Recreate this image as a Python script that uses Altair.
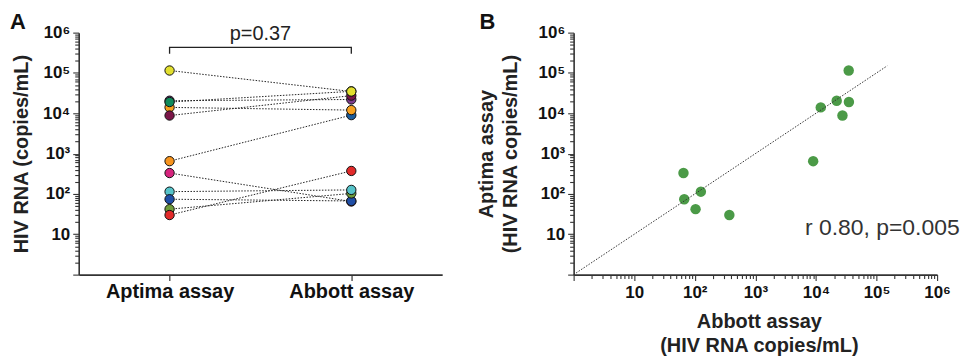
import altair as alt
import pandas as pd

# ---------------- data ----------------
subjects = ["S1", "S2", "S3", "S4", "S5", "S6", "S7", "S8", "S9", "S10", "S11"]
aptima = [115000, 20500, 19000, 14000, 8800, 650, 330, 114, 74, 42, 30]
abbott = [34700, 22000, 35000, 12000, 27400, 9000, 65, 126, 67, 103, 372]
aptima_colors = ["#e2df2e", "#7d3c8c", "#0f8a5a", "#f6a11f", "#7b1648", "#f7941e",
                 "#d6247e", "#56c3c9", "#1f4ea6", "#6f9c3a", "#e22a2a"]
abbott_colors = ["#e2df2e", "#7d3c8c", "#0f8a5a", "#f6a11f", "#7b1648", "#1c5d9c",
                 "#d6247e", "#56c3c9", "#1f4ea6", "#6f9c3a", "#e22a2a"]
aptima_z = [0, 1, 2, 1, 3, 0, 0, 1, 2, 3, 4]
abbott_z = [10, 7, 9, 6, 8, 5, 0, 3, 1, 2, 4]
assays = ["Aptima assay", "Abbott assay"]
p_text = ["p=0.37"]
r_text = ["r 0.80, p=0.005"]
fit_x = [1, 150000]
fit_y = [1, 150000]
bracket_pos = [0, 0, 1, 1]
bracket_val = [300000, 430000, 430000, 300000]

# ---------------- tables ----------------
rows = []
for i, s in enumerate(subjects):
    rows.append({"subject": s, "pos": 0, "value": aptima[i], "col": aptima_colors[i], "z": aptima_z[i]})
    rows.append({"subject": s, "pos": 1, "value": abbott[i], "col": abbott_colors[i], "z": abbott_z[i]})
long_df = pd.DataFrame(rows)
scatter_df = pd.DataFrame({"abbott": abbott, "aptima": aptima})
fit_df = pd.DataFrame({"x": fit_x, "y": fit_y})
bracket_df = pd.DataFrame({"pos": bracket_pos, "value": bracket_val, "k": list(range(4))})

FONT = "Liberation Sans"
W, H = 365, 243

ticks = [m * 10 ** k for k in range(0, 6) for m in range(1, 10)] + [10 ** 6]
sup = {2: "\u00b2", 3: "\u00b3", 4: "\u2074", 5: "\u2075", 6: "\u2076"}
lab = "datum.value == 10 ? '10\u2002'"
for k in range(2, 7):
    lab += f" : datum.value == {10 ** k} ? '10{sup[k]}'"
lab += " : ''"
major_test = " || ".join(f"datum.value == {10 ** k}" for k in range(0, 7))
tick_size = {"condition": {"test": major_test, "value": 6}, "value": 4}

axis_common = dict(
    values=ticks, labelExpr=lab, tickSize=tick_size, labelOverlap=False, labelFlush=False,
    labelFont=FONT, labelFontSize=17, labelFontWeight="bold", labelColor="#111",
    domainColor="#333", domainWidth=1.6, tickColor="#333", tickWidth=1.1,
    grid=False, titleFont=FONT, titleFontSize=20, titleFontWeight="bold",
    titleColor="#222",
)

logscale = alt.Scale(type="log", domain=[1, 1e6], nice=False)

# ---------------- panel A ----------------
yA = alt.Y("value:Q", scale=logscale,
           axis=alt.Axis(title="HIV RNA (copies/mL)", titleX=-57, titleBaseline="middle",
                         labelPadding=3, **axis_common))
xA = alt.X("pos:Q", scale=alt.Scale(domain=[-0.5, 1.5], nice=False, zero=False),
           axis=alt.Axis(values=[0, 1], labelExpr="datum.value == 0 ? 'Aptima assay' : 'Abbott assay'",
                         title=None, tickSize=6, labelPadding=1, labelFont=FONT, labelFontSize=20,
                         labelFontWeight="bold", labelColor="#111", domainColor="#333",
                         domainWidth=1.6, tickColor="#333", tickWidth=1.2, grid=False,
                         labelFlush=False))

linesA = alt.Chart(long_df).mark_line(strokeDash=[1.5, 1.5], strokeWidth=1, color="#222").encode(
    x=xA, y=yA, detail="subject:N")
pointsA = alt.Chart(long_df).mark_point(filled=True, size=88, stroke="#111", strokeWidth=1,
                                        opacity=1).encode(
    x="pos:Q", y="value:Q", fill=alt.Fill("col:N", scale=None), order="z:Q")
bracketA = alt.Chart(bracket_df).mark_line(color="#222", strokeWidth=1.3).encode(
    x="pos:Q", y="value:Q", order="k:Q")
pA = alt.Chart(pd.DataFrame({"t": p_text})).mark_text(
    font=FONT, fontSize=20, color="#222", baseline="middle").encode(
    x=alt.datum(0.5), y=alt.datum(930000), text="t:N")
letterA = alt.Chart(pd.DataFrame({"t": ["A"]})).mark_text(
    font=FONT, fontSize=22, fontWeight="bold", color="#111", baseline="middle").encode(
    x=alt.value(-61), y=alt.value(-10.5), text="t:N")

panelA = alt.layer(linesA, pointsA, bracketA, pA, letterA).properties(width=W, height=H)

# ---------------- panel B ----------------
xB = alt.X("abbott:Q", scale=logscale,
           axis=alt.Axis(title=["Abbott assay", "(HIV RNA copies/mL)"], titleLineHeight=24,
                         titleX=186, titleY=37, titleBaseline="top", labelPadding=4,
                         **axis_common))
yB = alt.Y("aptima:Q", scale=logscale,
           axis=alt.Axis(title=["Aptima assay", "(HIV RNA copies/mL)"], titleLineHeight=24,
                         titleX=-97, titleBaseline="top", labelPadding=3, **axis_common))

fitB = alt.Chart(fit_df).mark_line(strokeDash=[1.5, 1.5], strokeWidth=1, color="#333").encode(
    x=alt.X("x:Q", scale=logscale), y=alt.Y("y:Q", scale=logscale))
pointsB = alt.Chart(scatter_df).mark_circle(size=110, color="#4b9a47", opacity=1).encode(
    x=xB, y=yB)
rB = alt.Chart(pd.DataFrame({"t": r_text})).mark_text(
    font=FONT, fontSize=23, color="#333", align="left", baseline="middle").encode(
    x=alt.datum(6600), y=alt.datum(14.5), text="t:N")
letterB = alt.Chart(pd.DataFrame({"t": ["B"]})).mark_text(
    font=FONT, fontSize=22, fontWeight="bold", color="#111", baseline="middle").encode(
    x=alt.value(-86.5), y=alt.value(-11), text="t:N")

panelB = alt.layer(pointsB, fitB, rB, letterB).properties(width=W, height=H)

chart = alt.hconcat(panelA, panelB, spacing=132, bounds="flush").configure_view(
    stroke=None).properties(padding={"left": 2, "top": 2, "right": 2, "bottom": 2})

chart.save("out.html", embed_options={"renderer": "svg", "actions": False})
